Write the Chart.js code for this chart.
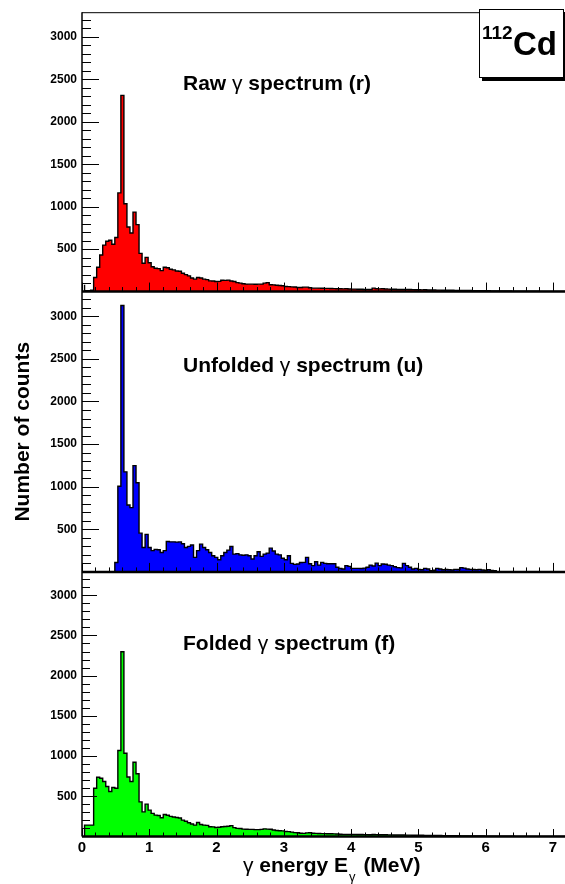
<!DOCTYPE html>
<html>
<head>
<meta charset="utf-8">
<script src="https://cdn.jsdelivr.net/npm/chart.js@4.4.0/dist/chart.umd.min.js"></script>
<style>
  html, body { margin: 0; padding: 0; background: #fff; }
  #wrap { position: relative; width: 565px; height: 884px; overflow: hidden;
          font-family: "Liberation Sans", Arial, Helvetica, sans-serif; color: #000; }
  #plot { position: absolute; left: 0; top: 0; }
  .lbl { position: absolute; font-weight: bold; font-size: 21px; line-height: 21px; white-space: nowrap; }
  .g { font-weight: normal; }
  .sub { font-weight: normal; font-size: 13px; position: relative; top: 9px; margin: 0 2px 0 1px; }
  #iso { position: absolute; left: 479px; top: 9px; width: 83px; height: 67px; background: #fff;
         border: 1.5px solid #000; box-shadow: 3px 3px 0 #000; }
  #iso span { position: absolute; font-weight: bold; white-space: nowrap; }
</style>
</head>
<body>
<div id="wrap">
  <canvas id="plot" width="565" height="884"></canvas>
  <div class="lbl" style="left:183px; top:71.5px">Raw <span class="g">γ</span> spectrum (r)</div>
  <div class="lbl" style="left:183px; top:354px">Unfolded <span class="g">γ</span> spectrum (u)</div>
  <div class="lbl" style="left:183px; top:632px">Folded <span class="g">γ</span> spectrum (f)</div>
  <div class="lbl" style="left:243px; top:854px"><span class="g">γ</span> energy E<span class="sub">γ</span> (MeV)</div>
  <div id="iso">
    <span style="left:2px; top:13px; font-size:19px; line-height:19px">112</span>
    <span style="left:33px; top:16.5px; font-size:33px; line-height:33px">Cd</span>
  </div>
</div>
<script>
// histogram binning (MeV)
const binStart = 0.038
const binWidth = 0.045

const energyTicks = [0, 1, 2, 3, 4, 5, 6, 7]
const countTicks = [500, 1000, 1500, 2000, 2500, 3000]

// counts per bin
const rawCounts = [
  80, 10, 10, 15, 165, 286, 430, 547, 593, 605,
  558, 636, 1162, 2311, 1034, 761, 690, 936, 788, 450,
  333, 403, 340, 293, 274, 270, 247, 286, 280, 263,
  255, 243, 240, 216, 200, 185, 160, 146, 165, 160,
  146, 140, 126, 125, 118, 120, 134, 132, 135, 125,
  118, 105, 99, 92, 88, 87, 87, 86, 87, 88,
  99, 105, 80, 79, 74, 72, 68, 60, 58, 55,
  54, 48, 48, 52, 52, 45, 40, 40, 41, 39,
  37, 37, 36, 35, 33, 33, 32, 33, 31, 29,
  29, 28, 28, 25, 26, 25, 40, 33, 32, 33,
  30, 29, 28, 27, 25, 25, 24, 26, 24, 23,
  22, 21, 20, 21, 19, 18, 18, 17, 17, 16,
  16, 15, 15, 14, 14, 13, 13, 12, 12, 11,
  11, 10, 10, 9, 9, 8, 8, 8, 7, 7,
  6, 6, 5, 5, 5, 4, 4, 4, 3, 3,
  3, 2, 2, 2, 2, 1, 1, 1, 1, 0
]

const unfoldedCounts = [
  0, 0, 0, 0, 0, 0, 0, 0, 0, 0,
  0, 110, 1005, 3126, 1174, 785, 755, 1247, 1046, 455,
  287, 440, 287, 250, 265, 260, 228, 250, 357, 353,
  353, 350, 352, 330, 287, 300, 315, 170, 250, 326,
  287, 260, 228, 190, 170, 143, 190, 228, 256, 299,
  209, 215, 200, 195, 200, 190, 151, 190, 237, 182,
  209, 221, 279, 245, 209, 200, 160, 143, 190, 100,
  88, 92, 110, 112, 170, 95, 74, 120, 80, 112,
  100, 95, 95, 95, 54, 40, 35, 74, 65, 41,
  41, 41, 40, 45, 54, 80, 70, 103, 74, 93,
  90, 80, 74, 60, 50, 47, 100, 74, 54, 35,
  41, 30, 26, 41, 35, 14, 20, 41, 35, 26,
  28, 25, 22, 30, 28, 50, 45, 35, 30, 28,
  25, 30, 22, 20, 25, 18, 15, 0, 0, 0,
  0, 0, 0, 0, 0, 0, 0, 0, 0, 0,
  0, 0, 0, 0, 0, 0, 0, 0, 0, 0
]

const foldedCounts = [
  142, 142, 142, 142, 600, 736, 724, 683, 621, 560,
  609, 600, 1069, 2297, 1036, 739, 683, 924, 781, 430,
  306, 402, 328, 287, 266, 262, 233, 274, 265, 250,
  242, 236, 230, 204, 190, 171, 155, 142, 175, 150,
  142, 138, 121, 120, 112, 115, 121, 124, 128, 135,
  110, 101, 99, 92, 90, 88, 88, 86, 85, 88,
  95, 92, 90, 80, 74, 72, 70, 62, 60, 55,
  48, 46, 40, 39, 45, 47, 40, 39, 38, 36,
  36, 35, 34, 33, 32, 28, 27, 27, 26, 27,
  26, 25, 24, 23, 23, 22, 24, 23, 22, 21,
  21, 20, 20, 19, 19, 18, 18, 17, 17, 16,
  16, 15, 15, 14, 14, 13, 13, 12, 12, 11,
  11, 10, 10, 9, 9, 8, 8, 8, 7, 7,
  6, 6, 6, 5, 5, 5, 4, 4, 4, 3,
  3, 3, 3, 2, 2, 2, 2, 2, 1, 1,
  1, 1, 1, 1, 1, 0, 0, 0, 0, 0
]

const FONT = '"Liberation Sans", Arial, Helvetica, sans-serif'

// step outline points: edges of every bin, closed down to zero at both ends
const histPoints = (counts) => {
  const pts = [{ x: binStart, y: 0 }]
  counts.forEach((c, k) => pts.push({ x: binStart + k * binWidth, y: c }))
  const end = binStart + counts.length * binWidth
  pts.push({ x: end, y: counts[counts.length - 1] })
  pts.push({ x: end, y: 0 })
  return pts
}

const histDataset = (counts, axis, colour) => ({
  data: histPoints(counts),
  yAxisID: axis,
  stepped: 'after',
  fill: 'origin',
  backgroundColor: colour,
  borderColor: '#000',
  borderWidth: 1.4,
  pointRadius: 0,
  pointHitRadius: 0
})

const panelAxis = (weight, stackWeight, extra) => Object.assign({
  type: 'linear',
  position: 'left',
  stack: 'panels',
  weight: weight,
  stackWeight: stackWeight,
  min: 0,
  max: 3290,
  afterBuildTicks: (s) => { s.ticks = countTicks.map(v => ({ value: v })) },
  afterFit: (s) => { s.width = 82 },
  ticks: {
    callback: (v) => String(v),
    font: { family: FONT, size: 12, weight: 'bold' },
    color: '#000',
    padding: 5
  },
  grid: { display: false, drawTicks: false },
  border: { display: false }
}, extra || {})

// ROOT-like frame: inward ticks, left axis, thick x axis per pad
const rootFrame = {
  id: 'rootFrame',
  afterDatasetsDraw(chart) {
    const { ctx, chartArea, scales } = chart
    const x = scales.x
    const left = chartArea.left
    ctx.save()
    ctx.strokeStyle = '#000'
    ;['yRaw', 'yUnf', 'yFold'].forEach((id, i) => {
      const y = scales[id]
      const last = i === 2
      const yMajor = last ? 15 : 17
      const yMinor = last ? 8 : 9
      const xMajor = last ? 7.5 : 9
      const xMinor = last ? 4 : 4.5
      ctx.lineWidth = 1
      ctx.beginPath()
      for (let v = 100; v <= y.max; v += 100) {
        const py = Math.round(y.getPixelForValue(v)) + 0.5
        ctx.moveTo(left, py)
        ctx.lineTo(left + (v % 500 === 0 ? yMajor : yMinor), py)
      }
      for (let j = 0; j * 0.2 <= x.max + 1e-9; j++) {
        const px = Math.round(x.getPixelForValue(j * 0.2)) + 0.5
        ctx.moveTo(px, y.bottom)
        ctx.lineTo(px, y.bottom - (j % 5 === 0 ? xMajor : xMinor))
      }
      ctx.stroke()

      ctx.lineWidth = 2.5
      ctx.beginPath()
      ctx.moveTo(left, y.bottom)
      ctx.lineTo(chartArea.right, y.bottom)
      ctx.stroke()

      if (i === 0) {
        ctx.lineWidth = 1
        ctx.beginPath()
        ctx.moveTo(left, y.top + 0.5)
        ctx.lineTo(chartArea.right, y.top + 0.5)
        ctx.stroke()
      }
    })
    ctx.lineWidth = 1.5
    ctx.beginPath()
    ctx.moveTo(left, chartArea.top)
    ctx.lineTo(left, chartArea.bottom)
    ctx.stroke()
    ctx.restore()
  }
}

new Chart(document.getElementById('plot'), {
  type: 'line',
  data: {
    datasets: [
      histDataset(rawCounts, 'yRaw', '#ff0000'),
      histDataset(unfoldedCounts, 'yUnf', '#0000ff'),
      histDataset(foldedCounts, 'yFold', '#00ff00')
    ]
  },
  options: {
    responsive: false,
    animation: false,
    events: [],
    layout: { padding: { top: 5, left: 0, right: 0, bottom: 0 } },
    plugins: { legend: { display: false }, tooltip: { enabled: false } },
    scales: {
      x: {
        type: 'linear',
        min: 0,
        max: 7.18,
        afterBuildTicks: (s) => { s.ticks = energyTicks.map(v => ({ value: v })) },
        afterFit: (s) => { s.height = 47.5 },
        ticks: {
          callback: (v) => String(v),
          font: { family: FONT, size: 15, weight: 'bold' },
          color: '#000',
          padding: 2,
          maxRotation: 0,
          autoSkip: false
        },
        grid: { display: false, drawTicks: false },
        border: { display: false }
      },
      yRaw: panelAxis(3, 281.8),
      yUnf: panelAxis(2, 282.8, {
        title: {
          display: true,
          text: 'Number of counts',
          font: { family: FONT, size: 21, weight: 'bold' },
          color: '#000',
          padding: { top: 10.7, bottom: 0 }
        }
      }),
      yFold: panelAxis(1, 266.9)
    }
  },
  plugins: [rootFrame]
})
</script>
</body>
</html>
